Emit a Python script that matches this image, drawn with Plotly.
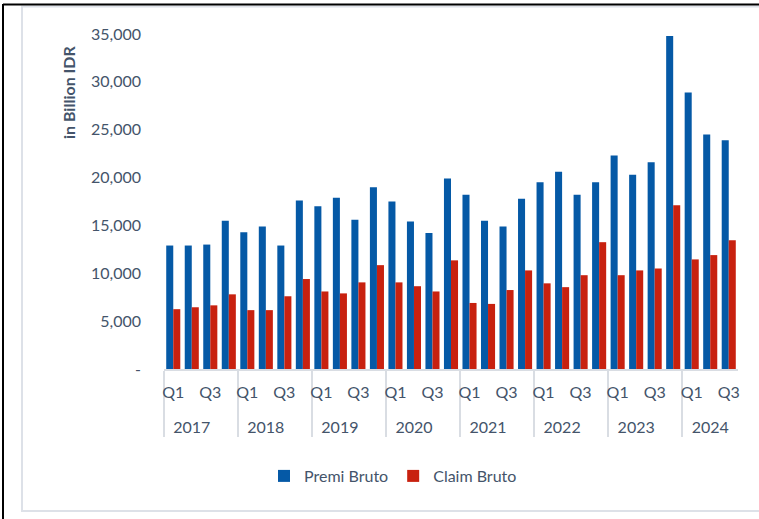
import plotly.graph_objects as go

years = ["2017", "2018", "2019", "2020", "2021", "2022", "2023", "2024"]
quarters = ["Q1", "Q2", "Q3", "Q4"]

premi_bruto = [12900, 12900, 13000, 15500,
               14300, 14900, 12900, 17600,
               17000, 17900, 15600, 19000,
               17500, 15400, 14200, 19900,
               18200, 15500, 14900, 17800,
               19500, 20600, 18200, 19500,
               22300, 20300, 21600, 34800,
               28900, 24500, 23900]
claim_bruto = [6250, 6450, 6650, 7800,
               6150, 6150, 7600, 9400,
               8100, 7900, 9050, 10850,
               9050, 8650, 8100, 11350,
               6900, 6800, 8250, 10300,
               8950, 8550, 9800, 13250,
               9800, 10300, 10500, 17100,
               11450, 11900, 13450]

y_tickvals = [0, 5000, 10000, 15000, 20000, 25000, 30000, 35000]
y_ticktext = ["-", "5,000", "10,000", "15,000", "20,000", "25,000", "30,000", "35,000"]

# Only Q1 and Q3 are labelled in the original; Q2/Q4 get distinct invisible labels.
# A trailing blank line pushes the year row further down, as in the original.
shown = {"Q1": "Q1", "Q2": "\u200b", "Q3": "Q3", "Q4": "\u200b\u200b"}
x_year, x_q = [], []
for i in range(len(premi_bruto)):
    x_year.append(years[i // 4])
    x_q.append(shown[quarters[i % 4]] + "<br><span style='font-size:21px'> </span>")

W, H = 759, 519
ML, MR, MT, MB = 164, 21, 34, 150
PW, PH = W - ML - MR, H - MT - MB

def px(x):
    return (x - ML) / PW

def py(y):
    return (H - MB - y) / PH

font = "Lato, 'Open Sans', sans-serif"
txt = "#44546A"

fig = go.Figure()
fig.add_bar(x=[x_year, x_q], y=premi_bruto, name="Premi Bruto",
            marker=dict(color="#0559A6", line=dict(width=0)))
fig.add_bar(x=[x_year, x_q], y=claim_bruto, name="Claim Bruto",
            marker=dict(color="#C8210F", line=dict(width=0)))

fig.update_layout(
    width=W, height=H,
    margin=dict(l=ML, r=MR, t=MT, b=MB, autoexpand=False),
    paper_bgcolor="white", plot_bgcolor="white",
    barmode="group", bargap=0.24, bargroupgap=0,
    font=dict(family=font, size=16, color=txt),
    showlegend=True,
    legend=dict(orientation="h", x=px(393), xanchor="center", y=py(476), yanchor="middle",
                font=dict(size=16, color=txt), itemwidth=30, traceorder="normal"),
    xaxis=dict(type="multicategory", showline=True, linecolor="#D9DDE3", linewidth=2,
               showgrid=False, ticks="", tickangle=0, automargin=False,
               tickfont=dict(size=16, color=txt), ticklabelstandoff=8,
               showdividers=True, dividercolor="#D9DDE3", dividerwidth=2),
    yaxis=dict(range=[0, 35000], tickvals=y_tickvals, ticktext=y_ticktext,
               showgrid=False, zeroline=False, showline=False, ticks="", automargin=False,
               tickfont=dict(size=16, color=txt), ticklabelstandoff=22),
)

fig.add_annotation(text="<b>in Billion IDR</b>", xref="paper", yref="paper",
                   x=px(68), y=py(92), textangle=-90, showarrow=False,
                   font=dict(size=16, color=txt), xanchor="center", yanchor="middle")

# outer frames
fig.add_shape(type="rect", xref="paper", yref="paper",
              x0=px(22), x1=px(770), y0=py(511), y1=py(6.5),
              line=dict(color="#DDE1E8", width=2), fillcolor="rgba(0,0,0,0)", layer="below")
fig.add_shape(type="line", xref="paper", yref="paper",
              x0=px(3), x1=px(3), y0=py(525), y1=py(4),
              line=dict(color="black", width=2))
fig.add_shape(type="line", xref="paper", yref="paper",
              x0=px(3), x1=px(765), y0=py(4.5), y1=py(4.5),
              line=dict(color="black", width=2))

fig.write_html("out.html", config={"displayModeBar": False},
               post_script="document.body.style.margin='0';document.body.style.overflow='hidden';")
